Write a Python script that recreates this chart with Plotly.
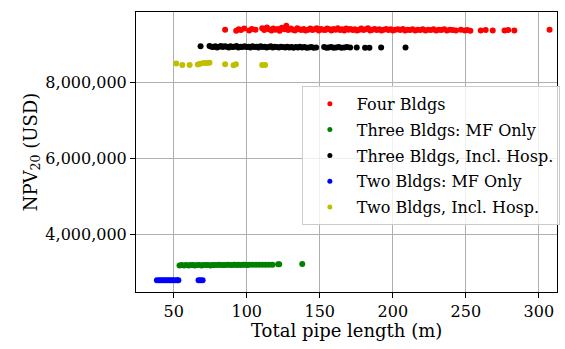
import plotly.graph_objects as go

# ---- data ----
red_x = [
    85.2, 92.8, 94.5, 96.0, 98.3, 101.7, 103.5, 106.0, 110.6, 112.0,
    113.8, 115.1, 116.9, 118.2, 119.6, 121.3, 122.5, 124.0, 125.8, 127.1,
    128.4, 130.2, 131.5, 133.0, 134.6, 135.9, 137.4, 139.0, 140.3, 142.1,
    143.5, 145.0, 146.2, 147.9, 149.3, 150.8, 152.1, 153.7, 155.0, 156.6,
    158.0, 159.4, 161.0, 162.3, 163.9, 165.2, 166.8, 168.1, 169.7, 171.0,
    172.6, 174.0, 175.5, 177.1, 178.4, 180.0, 181.6, 183.0, 184.5, 186.1,
    187.6, 189.0, 190.7, 192.2, 193.8, 195.5, 197.0, 198.6, 200.1, 201.8,
    203.5, 205.1, 206.9, 208.4, 210.2, 211.9, 213.5, 215.3, 217.0, 218.8,
    220.5, 222.4, 224.1, 226.0, 227.9, 229.6, 231.5, 233.3, 235.2, 237.0,
    239.1, 241.0, 243.2, 246.6, 249.3, 251.0, 253.1, 260.2, 263.6, 268.4,
    276.5, 279.0, 283.2, 307.3,
]
red_y = [
    9.40e6, 9.37e6, 9.41e6, 9.39e6, 9.43e6, 9.38e6, 9.42e6, 9.40e6, 9.44e6, 9.39e6,
    9.46e6, 9.41e6, 9.38e6, 9.43e6, 9.40e6, 9.42e6, 9.37e6, 9.45e6, 9.41e6, 9.50e6,
    9.39e6, 9.43e6, 9.40e6, 9.38e6, 9.44e6, 9.41e6, 9.39e6, 9.42e6, 9.38e6, 9.40e6,
    9.43e6, 9.39e6, 9.41e6, 9.44e6, 9.38e6, 9.42e6, 9.40e6, 9.39e6, 9.43e6, 9.41e6,
    9.38e6, 9.42e6, 9.40e6, 9.44e6, 9.39e6, 9.41e6, 9.38e6, 9.43e6, 9.40e6, 9.42e6,
    9.39e6, 9.41e6, 9.38e6, 9.40e6, 9.43e6, 9.39e6, 9.41e6, 9.44e6, 9.38e6, 9.40e6,
    9.42e6, 9.39e6, 9.41e6, 9.38e6, 9.40e6, 9.42e6, 9.39e6, 9.41e6, 9.38e6, 9.40e6,
    9.41e6, 9.39e6, 9.42e6, 9.38e6, 9.40e6, 9.39e6, 9.41e6, 9.38e6, 9.40e6, 9.39e6,
    9.41e6, 9.38e6, 9.40e6, 9.39e6, 9.41e6, 9.38e6, 9.40e6, 9.39e6, 9.41e6, 9.38e6,
    9.40e6, 9.39e6, 9.38e6, 9.40e6, 9.38e6, 9.39e6, 9.37e6, 9.38e6, 9.39e6, 9.38e6,
    9.38e6, 9.39e6, 9.38e6, 9.40e6,
]

black_x = [
    68.4, 74.5, 75.8, 77.0, 78.5, 79.7, 81.0, 82.4, 83.6, 85.0,
    86.3, 87.7, 88.9, 90.4, 91.6, 93.0, 94.3, 95.8, 97.0, 98.5,
    99.8, 101.2, 102.5, 104.0, 105.3, 106.8, 108.0, 109.5, 110.9, 112.3,
    113.6, 115.0, 116.4, 117.8, 119.2, 120.5, 122.0, 123.4, 124.8, 126.3,
    127.7, 129.1, 130.6, 132.0, 133.5, 135.0, 136.4, 137.9, 139.5, 141.0,
    142.6, 144.2, 145.8, 147.5, 153.0, 154.6, 156.2, 157.8, 159.5, 161.2,
    163.0, 164.8, 166.7, 168.6, 170.8, 175.3, 181.0, 184.0, 192.0, 208.7,
]
black_y = [
    8.96e6, 8.97e6, 8.95e6, 8.94e6, 8.96e6, 8.93e6, 8.95e6, 8.97e6, 8.94e6, 8.96e6,
    8.95e6, 8.93e6, 8.96e6, 8.94e6, 8.95e6, 8.97e6, 8.93e6, 8.95e6, 8.94e6, 8.96e6,
    8.94e6, 8.95e6, 8.93e6, 8.96e6, 8.94e6, 8.95e6, 8.93e6, 8.96e6, 8.94e6, 8.95e6,
    8.93e6, 8.94e6, 8.96e6, 8.93e6, 8.95e6, 8.94e6, 8.93e6, 8.95e6, 8.94e6, 8.93e6,
    8.95e6, 8.93e6, 8.94e6, 8.92e6, 8.94e6, 8.93e6, 8.95e6, 8.93e6, 8.94e6, 8.92e6,
    8.93e6, 8.94e6, 8.92e6, 8.93e6, 8.94e6, 8.92e6, 8.93e6, 8.94e6, 8.92e6, 8.93e6,
    8.94e6, 8.92e6, 8.93e6, 8.94e6, 8.93e6, 8.93e6, 8.92e6, 8.92e6, 8.93e6, 8.93e6,
]

yellow_x = [51.8, 55.9, 60.9, 66.5, 68.1, 70.4, 72.6, 74.5, 85.2, 91.0, 92.6, 110.6, 112.6]
yellow_y = [8.51e6, 8.47e6, 8.47e6, 8.48e6, 8.50e6, 8.52e6, 8.52e6, 8.53e6, 8.49e6,
            8.46e6, 8.49e6, 8.47e6, 8.47e6]

green_x = [
    54.0, 55.4, 57.1, 58.5, 60.2, 61.6, 63.1, 64.4, 66.0, 67.6,
    69.1, 70.4, 72.0, 73.6, 75.1, 76.4, 78.0, 79.6, 81.0, 82.5,
    84.1, 85.4, 87.0, 88.6, 90.0, 91.5, 93.1, 94.4, 96.0, 97.6,
    99.0, 100.5, 101.7, 104.0, 106.3, 108.5, 110.8, 113.0, 115.3, 117.6,
    121.5, 122.2, 138.0,
]
green_y = [
    3.18e6, 3.19e6, 3.18e6, 3.19e6, 3.18e6, 3.19e6, 3.19e6, 3.18e6, 3.19e6, 3.19e6,
    3.18e6, 3.19e6, 3.19e6, 3.19e6, 3.18e6, 3.19e6, 3.19e6, 3.19e6, 3.20e6, 3.19e6,
    3.19e6, 3.19e6, 3.20e6, 3.19e6, 3.19e6, 3.20e6, 3.19e6, 3.20e6, 3.19e6, 3.20e6,
    3.20e6, 3.19e6, 3.20e6, 3.20e6, 3.20e6, 3.20e6, 3.20e6, 3.20e6, 3.20e6, 3.20e6,
    3.21e6, 3.21e6, 3.22e6,
]

blue_x = [38.5, 40.0, 41.3, 42.7, 44.0, 45.4, 46.8, 48.1, 49.5, 51.0, 52.5, 53.2, 67.0, 68.3, 69.8]
blue_y = [2.79e6, 2.79e6, 2.79e6, 2.79e6, 2.79e6, 2.79e6, 2.79e6, 2.79e6, 2.79e6, 2.79e6,
          2.79e6, 2.79e6, 2.79e6, 2.79e6, 2.79e6]

series = [
    ("Four Bldgs", red_x, red_y, "#ff0000"),
    ("Three Bldgs: MF Only", green_x, green_y, "#008000"),
    ("Three Bldgs, Incl. Hosp.", black_x, black_y, "#000000"),
    ("Two Bldgs: MF Only", blue_x, blue_y, "#0000ff"),
    ("Two Bldgs, Incl. Hosp.", yellow_x, yellow_y, "#bfbf00"),
]

x_ticks = [50, 100, 150, 200, 250, 300]
y_ticks = [4e6, 6e6, 8e6]
y_ticktext = ["4,000,000", "6,000,000", "8,000,000"]
x_title = "Total pipe length (m)"
y_title = "NPV<sub>20</sub> (USD)"

FONT = "DejaVu Serif"

fig = go.Figure()
for name, xs, ys, col in series:
    fig.add_trace(go.Scatter(x=xs, y=ys, mode="markers", name=name, showlegend=False,
                             marker=dict(color=col, size=6, line=dict(width=0))))
for i, (name, xs, ys, col) in enumerate(series):
    fig.add_trace(go.Scatter(x=[None], y=[None], mode="markers", name=name,
                             legendgroup=f"g{i}",
                             marker=dict(color=col, size=5, line=dict(width=0))))

axis_common = dict(showline=True, mirror=True, linecolor="black", linewidth=1,
                   ticks="outside", ticklen=5, tickcolor="black", tickwidth=1,
                   showgrid=True, gridcolor="#b0b0b0", gridwidth=1, zeroline=False,
                   automargin=False,
                   tickfont=dict(family=FONT, size=16, color="black"))

fig.update_layout(
    width=565, height=349,
    margin=dict(l=136, r=5, t=12, b=57),
    paper_bgcolor="white", plot_bgcolor="white",
    font=dict(family=FONT, size=16, color="black"),
    xaxis=dict(range=[24.2, 312.4], tickvals=x_ticks, **axis_common),
    yaxis=dict(range=[2.478e6, 9.866e6], tickvals=y_ticks, ticktext=y_ticktext,
               title=dict(text=y_title, font=dict(family=FONT, size=18), standoff=3),
               **axis_common),
    legend=dict(x=0.394, y=0.736, xanchor="left", yanchor="top",
                bgcolor="rgba(255,255,255,0.8)", bordercolor="#cccccc", borderwidth=1,
                font=dict(family=FONT, size=16, color="black"), tracegroupgap=2,
                itemwidth=44),
    showlegend=True,
    annotations=[dict(text=x_title, xref="paper", yref="paper", x=0.5, y=-0.139,
                      xanchor="center", yanchor="middle", showarrow=False,
                      font=dict(family=FONT, size=18, color="black"))],
)

fig.write_html("out.html", config={"displayModeBar": False},
               post_script="document.body.style.margin='0px';")
